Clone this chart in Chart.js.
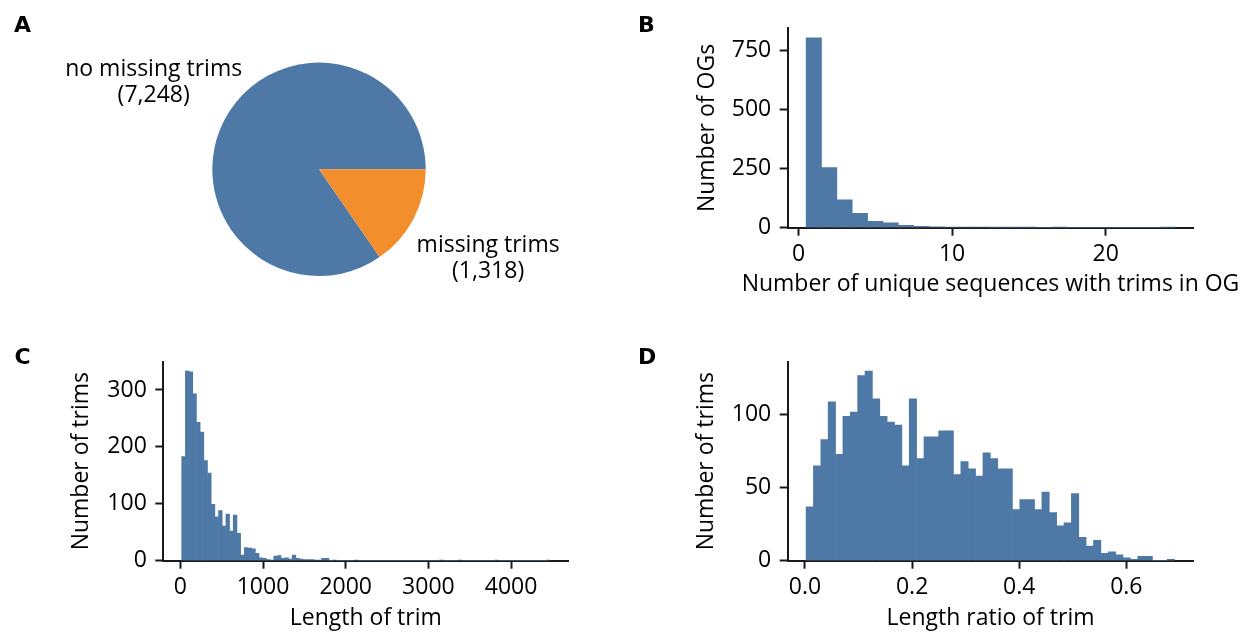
<!DOCTYPE html>
<html>
<head>
<meta charset="utf-8">
<script src="https://cdn.jsdelivr.net/npm/chart.js@4"></script>
<style>
  body { margin: 0; background: #fff; }
  #fig { position: relative; width: 1250px; height: 635px; }
  canvas { position: absolute; }
</style>
</head>
<body>
<div id="fig">
  <canvas id="pa" width="620" height="317" style="left:0;top:0;width:620px;height:317px"></canvas>
  <canvas id="pb" width="630" height="317" style="left:620px;top:0;width:630px;height:317px"></canvas>
  <canvas id="pc" width="620" height="318" style="left:0;top:317px;width:620px;height:318px"></canvas>
  <canvas id="pd" width="630" height="318" style="left:620px;top:317px;width:630px;height:318px"></canvas>
</div>
<script>
// A: OGs with / without missing trims
const pieLabels = ["no missing trims", "missing trims"];
const pieCounts = [7248, 1318];

// B: unique sequences with trims per OG (bins of width 1, centred on integers)
const seqBins = [1, 2, 3, 4, 5, 6, 7, 8, 9, 10, 11, 12, 13, 14, 15, 16, 17, 18, 19, 20, 21, 22, 23, 24];
const seqCounts = [803, 254, 118, 61, 27, 21, 10, 6, 4, 3, 2, 2, 1, 1, 1, 0, 1, 0, 0, 0, 0, 0, 0, 1];
const seqTicks = [0, 10, 20];
const ogTicks = [0, 250, 500, 750];

// C: length of trim, 100 bins
const lenStart = 16.6, lenWidth = 44.53;
const lenCounts = [
  183, 333, 332, 293, 243, 226, 176, 154, 99, 77,
  88, 61, 82, 52, 80, 48, 10, 23, 22, 21,
  13, 5, 4, 2, 1, 8, 9, 4, 5, 3,
  10, 4, 3, 2, 2, 2, 1, 1, 4, 4,
  0, 1, 0, 0, 0, 0, 0, 1, 0, 0,
  0, 0, 0, 0, 0, 0, 0, 0, 0, 0,
  0, 0, 0, 0, 0, 0, 0, 0, 0, 0,
  1, 0, 0, 0, 0, 1, 0, 0, 0, 0,
  0, 0, 0, 0, 0, 1, 0, 0, 0, 0,
  0, 0, 0, 0, 0, 0, 0, 0, 0, 1
];
const lenTicks = [0, 1000, 2000, 3000, 4000];
const lenCountTicks = [0, 100, 200, 300];

// D: length ratio of trim, 50 bins
const ratioStart = 0.002, ratioWidth = 0.01376;
const ratioCounts = [
  37, 65, 83, 109, 73, 99, 102, 127, 130, 111,
  99, 95, 93, 65, 111, 70, 85, 85, 89, 89,
  59, 68, 63, 58, 74, 70, 63, 63, 35, 42,
  42, 35, 47, 33, 24, 26, 46, 16, 10, 14,
  5, 6, 4, 2, 1, 3, 3, 0, 0, 1
];
const ratioTicks = [0, 0.2, 0.4, 0.6];
const ratioCountTicks = [0, 50, 100];

const BLUE = "#4e79a7", ORANGE = "#f28e2b", INK = "#1a1a1a";
const FAMILY = "'Open Sans', 'Noto Sans', sans-serif";
const FS = 23;
const font = { family: FAMILY, size: FS, lineHeight: 1.2 };

function letterPlugin(letter, x, y) {
  return {
    id: "letter",
    afterDraw(chart) {
      const c = chart.ctx;
      c.save();
      c.font = "bold 22px 'DejaVu Sans', sans-serif";
      c.fillStyle = "#000";
      c.textBaseline = "alphabetic";
      c.fillText(letter, x, y);
      c.restore();
    }
  };
}

// ---- A: pie with two-line labels along each wedge's middle angle
const pieText = {
  id: "pieText",
  afterDraw(chart) {
    const c = chart.ctx;
    c.save();
    c.font = FS + "px " + FAMILY;
    c.fillStyle = "#000";
    c.textAlign = "center";
    c.textBaseline = "middle";
    chart.getDatasetMeta(0).data.forEach((arc, i) => {
      const mid = (arc.startAngle + arc.endAngle) / 2;
      const k = i === 0 ? 1.75 : 1.79;
      const lx = arc.x + k * arc.outerRadius * Math.cos(mid);
      const ly = arc.y + k * arc.outerRadius * Math.sin(mid);
      c.fillText(pieLabels[i], lx, ly - 13);
      c.fillText("(" + pieCounts[i].toLocaleString("en-US") + ")", lx, ly + 13);
    });
    c.restore();
  }
};
const pieTotal = pieCounts.reduce((a, b) => a + b, 0);
new Chart(document.getElementById("pa"), {
  type: "pie",
  data: {
    labels: pieLabels,
    datasets: [{ data: pieCounts, backgroundColor: [BLUE, ORANGE], borderWidth: 0 }]
  },
  options: {
    responsive: false, animation: false, devicePixelRatio: 1,
    rotation: 90 + 360 * pieCounts[1] / pieTotal,
    layout: { padding: { left: 212.3, top: 62.6, right: 194.3, bottom: 41 } },
    plugins: { legend: { display: false }, tooltip: { enabled: false } }
  },
  plugins: [pieText, letterPlugin("A", 14, 32.3)]
});

// ---- histograms
function axisOpts(ticks, fmt, extra) {
  return Object.assign({
    type: "linear",
    offset: false,
    afterBuildTicks: s => { s.ticks = ticks.map(v => ({ value: v })); },
    grid: { offset: false, drawOnChartArea: false, drawTicks: true, tickLength: 8, tickWidth: 2, tickColor: INK },
    border: { display: true, color: INK, width: 2 },
    ticks: { font, color: "#000", autoSkip: false, maxRotation: 0, callback: fmt }
  }, extra);
}

// x label drawn by hand so long labels are not squeezed to the axis width
function xLabelPlugin(text, y) {
  return {
    id: "xLabel",
    afterDraw(chart) {
      const c = chart.ctx, a = chart.chartArea;
      c.save();
      c.font = FS + "px " + FAMILY;
      c.fillStyle = "#000";
      c.textAlign = "center";
      c.textBaseline = "middle";
      c.fillText(text, (a.left + a.right) / 2, y);
      c.restore();
    }
  };
}

function histogram(id, centers, counts, g) {
  const el = document.getElementById(id);
  const W = el.width, H = el.height;
  const x = axisOpts(g.xTicks, g.xFmt,
    { min: g.xMin, max: g.xMax, afterFit: s => { s.height = H - g.bottom; } });
  x.ticks.padding = 4.5;
  const y = axisOpts(g.yTicks, v => String(v),
    { min: 0, max: Math.max(...counts) * 1.05, afterFit: s => { s.width = g.left; },
      title: { display: true, text: g.yTitle, font, color: "#000", padding: { top: g.yTitlePad, bottom: 0 } } });
  y.ticks.padding = 8.5;
  return new Chart(el, {
    type: "bar",
    data: {
      datasets: [{
        data: centers.map((c, i) => ({ x: c, y: counts[i] })),
        backgroundColor: BLUE, borderWidth: 0,
        barPercentage: 1, categoryPercentage: 1
      }]
    },
    options: {
      responsive: false, animation: false, devicePixelRatio: 1,
      layout: { padding: { left: 0, top: g.top, right: W - g.right, bottom: 0 } },
      plugins: { legend: { display: false }, tooltip: { enabled: false } },
      scales: { x, y }
    },
    plugins: [xLabelPlugin(g.xTitle, g.xTitleY), letterPlugin(g.letter, g.lx, g.ly)]
  });
}

const lenCenters = lenCounts.map((_, i) => lenStart + lenWidth * (i + 0.5));
const ratioCenters = ratioCounts.map((_, i) => ratioStart + ratioWidth * (i + 0.5));

histogram("pb", seqBins, seqCounts, {
  left: 167.7, top: 28.3, right: 573.3, bottom: 227.7,
  xMin: -0.7, xMax: 25.7, xTicks: seqTicks, yTicks: ogTicks, xFmt: v => String(v),
  xTitle: "Number of unique sequences with trims in OG", yTitle: "Number of OGs",
  xTitleY: 284.8, yTitlePad: 73.3, letter: "B", lx: 18, ly: 32.3
});
histogram("pc", lenCenters, lenCounts, {
  left: 163.3, top: 44.7, right: 568.3, bottom: 243.7,
  xMin: -206, xMax: 4692, xTicks: lenTicks, yTicks: lenCountTicks, xFmt: v => String(v),
  xTitle: "Length of trim", yTitle: "Number of trims",
  xTitleY: 301.3, yTitlePad: 67.2, letter: "C", lx: 14.5, ly: 47
});
histogram("pd", ratioCenters, ratioCounts, {
  left: 167.7, top: 44.7, right: 573.3, bottom: 243.7,
  xMin: -0.0323, xMax: 0.725, xTicks: ratioTicks, yTicks: ratioCountTicks, xFmt: v => v.toFixed(1),
  xTitle: "Length ratio of trim", yTitle: "Number of trims",
  xTitleY: 301.3, yTitlePad: 72.5, letter: "D", lx: 18, ly: 47
});
</script>
</body>
</html>
